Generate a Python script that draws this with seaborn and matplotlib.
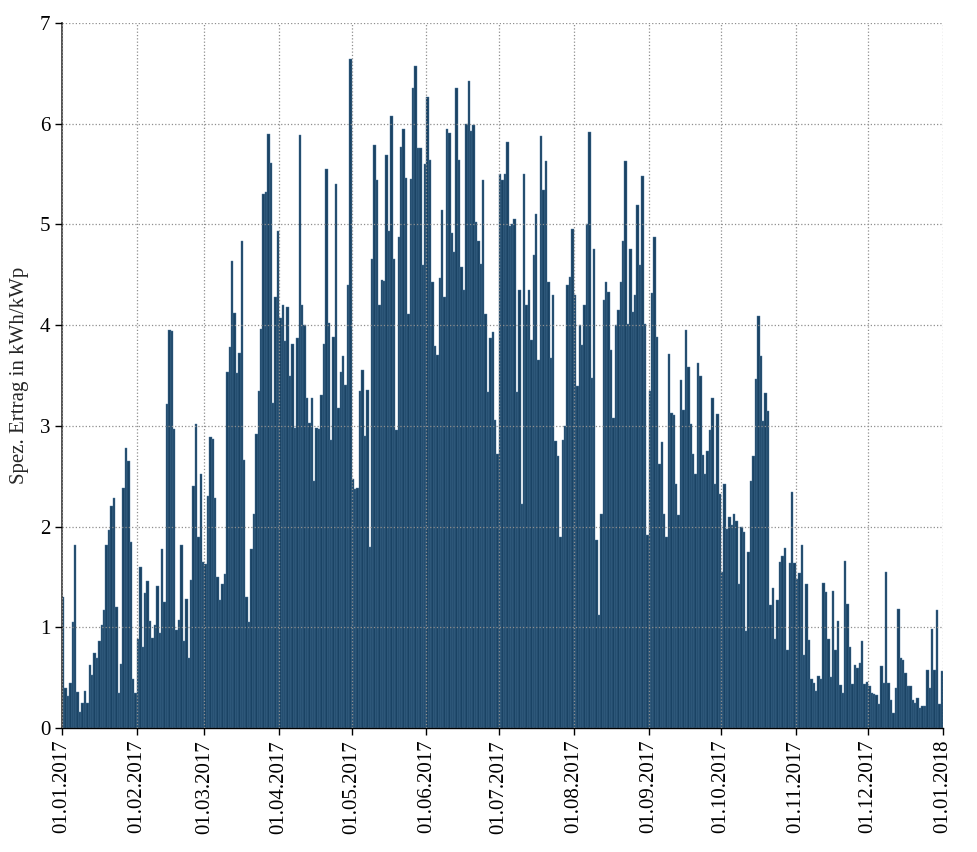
import numpy as np
import pandas as pd
import matplotlib
matplotlib.use("Agg")
import matplotlib.pyplot as plt
import seaborn as sns

# ---- daily specific yield (kWh/kWp), 2017 ----
jan = [1.30, 0.40, 0.32, 0.45, 1.05, 1.82, 0.36, 0.16, 0.25, 0.37, 0.25, 0.63, 0.53, 0.74, 0.70, 0.86,
       1.02, 1.17, 1.82, 1.97, 2.20, 2.28, 1.20, 0.35, 0.64, 2.38, 2.78, 2.65, 1.85, 0.49, 0.35]
feb = [0.88, 1.60, 0.80, 1.34, 1.46, 1.06, 0.89, 1.02, 1.41, 0.94, 1.78, 1.25, 3.22, 3.95, 3.94, 2.97,
       0.97, 1.07, 1.82, 0.86, 1.28, 0.70, 1.47, 2.40, 3.02, 1.90, 2.52, 1.65]
mar = [1.63, 2.30, 2.89, 2.87, 2.28, 1.50, 1.27, 1.43, 1.53, 3.53, 3.78, 4.64, 4.12, 3.52, 3.72, 4.84,
       2.66, 1.30, 1.05, 1.78, 2.12, 2.92, 3.35, 3.96, 5.30, 5.32, 5.90, 5.61, 3.23, 4.28, 4.93]
apr = [4.07, 4.20, 3.84, 4.18, 3.50, 3.81, 2.98, 3.87, 5.89, 4.20, 4.00, 3.28, 3.03, 3.28, 2.45, 2.98,
       2.97, 3.31, 3.81, 5.55, 4.02, 2.86, 3.88, 5.40, 3.18, 3.53, 3.69, 3.41, 4.40, 6.64]
may = [2.47, 2.37, 2.38, 3.35, 3.55, 2.90, 3.36, 1.80, 4.66, 5.79, 5.44, 4.20, 4.45, 4.44, 5.69, 4.93,
       6.08, 4.66, 2.96, 4.88, 5.77, 5.95, 5.46, 4.11, 5.45, 6.35, 6.57, 5.76, 5.76, 4.60, 5.60]
jun = [6.27, 5.64, 4.43, 3.79, 3.70, 4.47, 5.14, 4.28, 5.95, 5.91, 4.91, 4.73, 6.35, 5.64, 4.58, 4.35,
       6.00, 6.42, 5.93, 5.99, 5.02, 4.84, 4.61, 5.44, 4.11, 3.34, 3.87, 3.93, 3.06, 2.72]
jul = [5.50, 5.44, 5.50, 5.82, 4.98, 5.00, 5.05, 3.34, 4.35, 2.22, 5.50, 4.20, 4.35, 3.85, 4.70, 5.10,
       3.65, 5.88, 5.34, 5.63, 4.43, 3.67, 4.30, 2.85, 2.70, 1.90, 2.86, 3.00, 4.40, 4.48, 4.95]
aug = [4.30, 3.40, 4.00, 3.80, 4.20, 5.00, 5.92, 3.48, 4.76, 1.87, 1.12, 2.12, 4.25, 4.43, 4.33, 3.75,
       3.08, 4.00, 4.15, 4.43, 4.84, 5.63, 4.01, 4.76, 4.13, 4.30, 5.19, 4.60, 5.48, 4.01, 1.92]
sep = [3.35, 4.32, 4.88, 3.88, 2.62, 2.84, 2.12, 1.90, 3.71, 3.13, 3.11, 2.42, 2.11, 3.46, 3.16, 3.95,
       3.58, 3.02, 2.72, 2.52, 3.62, 3.50, 2.71, 2.52, 2.75, 2.96, 3.28, 2.42, 3.12, 2.32]
oct_ = [1.55, 2.42, 1.98, 2.10, 2.02, 2.12, 2.06, 1.43, 2.00, 1.95, 0.96, 1.75, 2.45, 2.70, 3.47, 4.09,
        3.69, 3.05, 3.33, 3.15, 1.22, 1.39, 0.88, 1.27, 1.65, 1.71, 1.79, 0.77, 1.64, 2.34, 1.64]
nov = [1.48, 1.54, 1.82, 0.72, 1.43, 0.87, 0.49, 0.45, 0.37, 0.52, 0.49, 1.44, 1.35, 0.88, 0.51, 1.36,
       0.77, 1.06, 0.43, 0.35, 1.66, 1.23, 0.80, 0.44, 0.63, 0.60, 0.65, 0.86, 0.44, 0.46]
dec = [0.42, 0.35, 0.34, 0.33, 0.24, 0.62, 0.45, 1.55, 0.45, 0.28, 0.15, 0.40, 1.18, 0.70, 0.68, 0.55,
       0.42, 0.42, 0.28, 0.25, 0.30, 0.20, 0.22, 0.22, 0.58, 0.40, 0.98, 0.58, 1.17, 0.24, 0.57]

months = [jan, feb, mar, apr, may, jun, jul, aug, sep, oct_, nov, dec]
tick_labels = ["01.01.2017", "01.02.2017", "01.03.2017", "01.04.2017", "01.05.2017", "01.06.2017",
               "01.07.2017", "01.08.2017", "01.09.2017", "01.10.2017", "01.11.2017", "01.12.2017",
               "01.01.2018"]
y_label = "Spez. Ertrag in kWh/kWp"

values = [v for m in months for v in m]
df = pd.DataFrame({"day": np.arange(len(values)), "value": values})

sns.set_theme(style="ticks")
plt.rcParams["font.family"] = ["Liberation Serif", "DejaVu Serif"]

fig = plt.figure(figsize=(9.78, 8.52), dpi=100)
ax = fig.add_axes([62 / 978, 1 - 728 / 852, 881 / 978, 705 / 852])

sns.barplot(data=df, x="day", y="value", color="#1a4364", saturation=1, width=1.0,
            edgecolor="#4f7a9f", linewidth=0.3, errorbar=None, ax=ax)

month_starts = np.concatenate([[0], np.cumsum([len(m) for m in months])]) - 0.5
ax.set_xlim(-0.5, len(values) - 0.5)
ax.set_xticks(month_starts)
ax.set_xticklabels(tick_labels, rotation=90)
ax.set_ylim(0, 7)
ax.set_yticks(range(8))
ax.set_xlabel("")
ax.set_ylabel(y_label, fontsize=15, labelpad=8)
ax.tick_params(axis="both", direction="out", length=5, width=1, labelsize=15,
               bottom=True, left=True, colors="black")
ax.grid(True, linestyle=":", color="#8f8f8f", linewidth=0.9)
ax.set_axisbelow(False)
for s in ["top", "right"]:
    ax.spines[s].set_visible(False)
ax.spines["left"].set_color("#444444")
ax.spines["left"].set_linewidth(1.3)
ax.spines["bottom"].set_color("black")
ax.spines["bottom"].set_linewidth(1.0)

fig.savefig("out.png", dpi=100)
